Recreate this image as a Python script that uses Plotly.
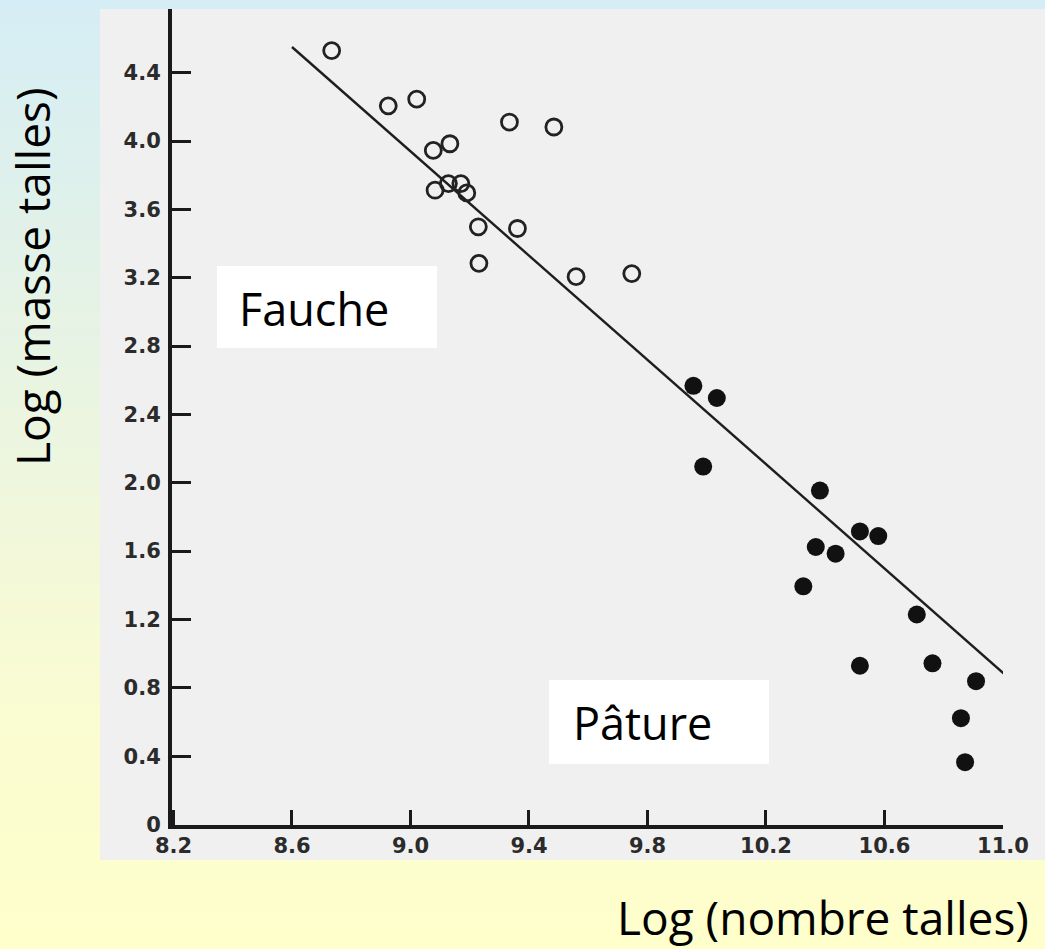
import plotly.graph_objects as go

W, H = 1045, 949

# ---------------- data ----------------
fauche_x = [8.734, 8.925, 9.021, 9.334, 9.484, 9.077, 9.133, 9.083, 9.128, 9.170,
            9.190, 9.229, 9.361, 9.231, 9.559, 9.747]
fauche_y = [4.529, 4.206, 4.245, 4.111, 4.082, 3.945, 3.984, 3.712, 3.751, 3.751,
            3.696, 3.498, 3.488, 3.284, 3.206, 3.224]

pature_x = [9.955, 10.034, 9.988, 10.382, 10.517, 10.579, 10.368, 10.435, 10.326,
            10.709, 10.517, 10.762, 10.909, 10.858, 10.872]
pature_y = [2.567, 2.496, 2.095, 1.954, 1.715, 1.688, 1.624, 1.585, 1.394,
            1.229, 0.929, 0.943, 0.839, 0.622, 0.365]

fit_x = [8.60, 11.015]
fit_y = [4.55, 0.865]

x_ticks = [8.2, 8.6, 9.0, 9.4, 9.8, 10.2, 10.6, 11.0]
x_ticklabels = ["8.2", "8.6", "9.0", "9.4", "9.8", "10.2", "10.6", "11.0"]
y_ticks = [0, 0.4, 0.8, 1.2, 1.6, 2.0, 2.4, 2.8, 3.2, 3.6, 4.0, 4.4, 4.8]
y_ticklabels = ["0", "0.4", "0.8", "1.2", "1.6", "2.0", "2.4", "2.8", "3.2",
                "3.6", "4.0", "4.4", "4.8"]

x_title = "Log (nombre talles)"
y_title = "Log (masse talles)"
label_fauche = "Fauche"
label_pature = "Pâture"

# ---------------- helpers ----------------
def px(x):
    return x / W


def py(y):
    return 1 - y / H


def lerp(c1, c2, t):
    return tuple(round(a + (b - a) * t) for a, b in zip(c1, c2))


stops = [(0.0, (213, 237, 245)), (0.5, (238, 246, 221)),
         (0.75, (250, 252, 209)), (1.0, (255, 255, 204))]


def grad(t):
    for (t0, c0), (t1, c1) in zip(stops[:-1], stops[1:]):
        if t <= t1:
            return lerp(c0, c1, (t - t0) / (t1 - t0))
    return stops[-1][1]


shapes = []
step = 8
for y0 in range(0, H, step):
    c = grad((y0 + step / 2) / H)
    shapes.append(dict(type="rect", xref="paper", yref="paper", layer="below",
                       x0=0, x1=1, y0=py(y0 + step + 1), y1=py(y0),
                       line=dict(width=0), fillcolor="rgb(%d,%d,%d)" % c))

# scanned figure area
shapes.append(dict(type="rect", xref="paper", yref="paper", layer="below",
                   x0=px(100), x1=1, y0=py(860), y1=py(9),
                   line=dict(width=0), fillcolor="#f0f0f0"))
# top strip of background covering the cut-off top of the scan
shapes.append(dict(type="rect", xref="paper", yref="paper", layer="above",
                   x0=px(95), x1=1, y0=py(9), y1=1.0,
                   line=dict(width=0), fillcolor="rgb(%d,%d,%d)" % grad(0.004)))
# white label boxes
shapes.append(dict(type="rect", xref="paper", yref="paper", layer="above",
                   x0=px(217), x1=px(437), y0=py(348), y1=py(266),
                   line=dict(width=0), fillcolor="white"))
shapes.append(dict(type="rect", xref="paper", yref="paper", layer="above",
                   x0=px(549), x1=px(769), y0=py(764), y1=py(680),
                   line=dict(width=0), fillcolor="white"))

fig = go.Figure()
fig.add_trace(go.Scatter(x=fit_x, y=fit_y, mode="lines",
                         line=dict(color="#1e1e1e", width=2.4),
                         showlegend=False, hoverinfo="skip"))
fig.add_trace(go.Scatter(x=fauche_x, y=fauche_y, mode="markers", name=label_fauche,
                         marker=dict(symbol="circle-open", size=16, color="#222222",
                                     line=dict(width=2.8, color="#222222")),
                         showlegend=False))
fig.add_trace(go.Scatter(x=pature_x, y=pature_y, mode="markers", name=label_pature,
                         marker=dict(symbol="circle", size=18, color="#111111",
                                     line=dict(width=0)),
                         showlegend=False))

tickfont = dict(family="DejaVu Sans", size=21, color="#2b2b2b", weight="bold")
axis_color = "#1a1a1a"

fig.update_layout(
    width=W, height=H,
    margin=dict(l=0, r=0, t=0, b=0, pad=0, autoexpand=False),
    paper_bgcolor="#fefece",
    plot_bgcolor="rgba(0,0,0,0)",
    shapes=shapes,
    xaxis=dict(domain=[px(172), px(1003)], range=[8.195, 11.0],
               showgrid=False, zeroline=False, automargin=False,
               showline=True, linewidth=4, linecolor=axis_color,
               ticks="inside", ticklen=15, tickwidth=3, tickcolor=axis_color,
               tickvals=x_ticks, ticktext=x_ticklabels, tickfont=tickfont,
               ticklabelstandoff=-1),
    yaxis=dict(domain=[1 - 824.5 / H, 1 - 4.3 / H], range=[0, 4.8],
               showgrid=False, zeroline=False, automargin=False,
               showline=True, linewidth=4, linecolor=axis_color,
               ticks="inside", ticklen=19, tickwidth=3, tickcolor=axis_color,
               tickvals=y_ticks, ticktext=y_ticklabels, tickfont=tickfont,
               ticklabelstandoff=3),
    annotations=[
        dict(text=label_fauche, xref="paper", yref="paper", x=px(314), y=py(308),
             xanchor="center", yanchor="middle", showarrow=False,
             font=dict(family="Open Sans", size=45, color="#000000")),
        dict(text=label_pature, xref="paper", yref="paper", x=px(642), y=py(722),
             xanchor="center", yanchor="middle", showarrow=False,
             font=dict(family="Open Sans", size=45, color="#000000")),
        dict(text=x_title, xref="paper", yref="paper", x=px(823), y=py(917),
             xanchor="center", yanchor="middle", showarrow=False,
             font=dict(family="Open Sans", size=46, color="#000000")),
        dict(text=y_title, xref="paper", yref="paper", x=px(32), y=py(277),
             xanchor="center", yanchor="middle", showarrow=False, textangle=-90,
             font=dict(family="Open Sans", size=46, color="#000000")),
    ],
)

fig.write_html("out.html")
